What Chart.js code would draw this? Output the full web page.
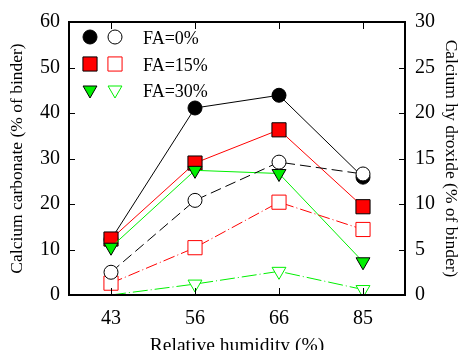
<!DOCTYPE html>
<html><head><meta charset="utf-8">
<script src="https://cdn.jsdelivr.net/npm/chart.js@4"></script>
<style>html,body{margin:0;padding:0;background:#fff}#wrap{width:458px;height:350px;position:relative}</style>
</head><body><div id="wrap"><canvas id="c" width="458" height="350"></canvas></div>
<script>
const categories = ['43', '56', '66', '85'];
// Calcium carbonate (% of binder), left axis, filled markers
const caco3_FA0 = [12.2, 41.1, 43.9, 25.9];
const caco3_FA15 = [12.3, 29.0, 36.3, 19.4];
const caco3_FA30 = [10.5, 27.4, 26.7, 7.3];
// Calcium hydroxide (% of binder), right axis, open markers
const caoh2_FA0 = [2.5, 10.4, 14.6, 13.3];
const caoh2_FA15 = [1.3, 5.2, 10.2, 7.2];
const caoh2_FA30 = [0, 1.2, 2.6, 0.6];
const leftTicks = [0, 10, 20, 30, 40, 50, 60];
const rightTicks = [0, 5, 10, 15, 20, 25, 30];
const legendLabels = ['FA=0%', 'FA=15%', 'FA=30%'];

const FONT = "'Liberation Serif', 'DejaVu Serif', serif";
const RED = '#ff0000', GREEN = '#00f000', BLACK = '#000000';

function ds(label, data, axis, color, fill, border, style, radius, dash, rot, ptRadii) {
  return {
    label, data, yAxisID: axis,
    borderColor: color, borderWidth: 1, borderDash: dash || [],
    pointStyle: style, pointRotation: rot || 0,
    pointRadius: ptRadii || radius, pointHoverRadius: ptRadii || radius,
    pointBackgroundColor: fill, pointBorderColor: border, pointBorderWidth: 1,
    fill: false, tension: 0
  };
}

const datasets = [
  ds('FA=0% CH', caoh2_FA0, 'y2', BLACK, '#ffffff', BLACK, 'circle', 7, [11, 5]),
  ds('FA=15% CH', caoh2_FA15, 'y2', RED, '#ffffff', RED, 'rect', 10, [12, 3, 1, 3]),
  ds('FA=30% CH', caoh2_FA30, 'y2', GREEN, '#ffffff', GREEN, 'triangle', 8, [15, 3, 1, 3], 180, [0, 8, 8, 8]),
  ds('FA=30% CC', caco3_FA30, 'y', GREEN, GREEN, BLACK, 'triangle', 8, null, 180),
  ds('FA=15% CC', caco3_FA15, 'y', RED, RED, BLACK, 'rect', 10, null),
  ds('FA=0% CC', caco3_FA0, 'y', BLACK, BLACK, BLACK, 'circle', 7, null)
];

function drawMarker(ctx, style, x, y, r, fill, stroke) {
  ctx.save();
  ctx.beginPath();
  if (style === 'circle') {
    ctx.arc(x, y, r, 0, Math.PI * 2);
  } else if (style === 'rect') {
    const s = Math.SQRT1_2 * r;
    ctx.rect(x - s, y - s, 2 * s, 2 * s);
  } else {
    const a = Math.PI;
    for (let i = 0; i < 3; i++) {
      const ang = a + i * 2 * Math.PI / 3;
      const px = x + Math.sin(ang) * r, py = y - Math.cos(ang) * r;
      if (i === 0) ctx.moveTo(px, py); else ctx.lineTo(px, py);
    }
    ctx.closePath();
  }
  ctx.fillStyle = fill; ctx.fill();
  ctx.lineWidth = 1; ctx.strokeStyle = stroke; ctx.stroke();
  ctx.restore();
}

const framePlugin = {
  id: 'frame',
  afterDraw(chart) {
    const ctx = chart.ctx, a = chart.chartArea;
    const y = chart.scales.y, y2 = chart.scales.y2, x = chart.scales.x;
    ctx.save();
    ctx.strokeStyle = '#000'; ctx.lineWidth = 1;
    ctx.beginPath();
    leftTicks.forEach(v => { const py = Math.round(y.getPixelForValue(v)) + 0.5; ctx.moveTo(a.left, py); ctx.lineTo(a.left + 6, py); });
    rightTicks.forEach(v => { const py = Math.round(y2.getPixelForValue(v)) + 0.5; ctx.moveTo(a.right, py); ctx.lineTo(a.right - 6, py); });
    categories.forEach((c, i) => {
      const px = Math.round(x.getPixelForValue(i)) + 0.5;
      ctx.moveTo(px, a.bottom); ctx.lineTo(px, a.bottom - 7);
      ctx.moveTo(px, a.top); ctx.lineTo(px, a.top + 7);
    });
    ctx.stroke();
    ctx.lineWidth = 2;
    ctx.strokeRect(a.left, a.top, a.right - a.left, a.bottom - a.top);
    const rows = [
      { style: 'circle', r: 7, fill: BLACK, open: BLACK, y: 37 },
      { style: 'rect', r: 10, fill: RED, open: RED, y: 64 },
      { style: 'triangle', r: 8, fill: GREEN, open: GREEN, y: 90 }
    ];
    ctx.font = '18px ' + FONT;
    ctx.textBaseline = 'middle';
    ctx.textAlign = 'left';
    rows.forEach((r, i) => {
      drawMarker(ctx, r.style, 90, r.y, r.r, r.fill, BLACK);
      drawMarker(ctx, r.style, 115, r.y, r.r, '#ffffff', r.open);
      ctx.fillStyle = '#000';
      ctx.fillText(legendLabels[i], 143, r.y + 2);
    });
    ctx.restore();
  }
};

new Chart(document.getElementById('c'), {
  type: 'line',
  data: { labels: categories, datasets },
  options: {
    responsive: false, animation: false, devicePixelRatio: 1,
    layout: { padding: { top: 20, left: 0, right: 0, bottom: 0 } },
    plugins: { legend: { display: false }, tooltip: { enabled: false } },
    scales: {
      x: {
        type: 'category', offset: true,
        grid: { display: false, drawTicks: false }, border: { display: false },
        ticks: { color: '#000', font: { family: FONT, size: 20 }, padding: 12 },
        title: { display: true, text: 'Relative humidity (%)', color: '#000', font: { family: FONT, size: 19.5 }, padding: { top: 0, bottom: -8 } },
        afterFit: s => { s.height = 55; }
      },
      y: {
        position: 'left', min: 0, max: 60,
        afterBuildTicks: s => { s.ticks = leftTicks.map(v => ({ value: v })); },
        grid: { display: false, drawTicks: false }, border: { display: false },
        ticks: { color: '#000', font: { family: FONT, size: 20 }, padding: 9 },
        title: { display: true, text: 'Calcium carbonate (% of binder)', color: '#000', font: { family: FONT, size: 17.5 }, padding: { top: 7, bottom: 0 } },
        afterFit: s => { s.width = 69; }
      },
      y2: {
        position: 'right', min: 0, max: 30,
        afterBuildTicks: s => { s.ticks = rightTicks.map(v => ({ value: v })); },
        grid: { display: false, drawTicks: false }, border: { display: false },
        ticks: { color: '#000', font: { family: FONT, size: 20 }, padding: 10 },
        title: { display: true, text: 'Calcium hy droxide (% of binder)', color: '#000', font: { family: FONT, size: 17.5 }, padding: { top: -3, bottom: 0 } },
        afterFit: s => { s.width = 53; }
      }
    }
  },
  plugins: [framePlugin]
});
</script></body></html>
